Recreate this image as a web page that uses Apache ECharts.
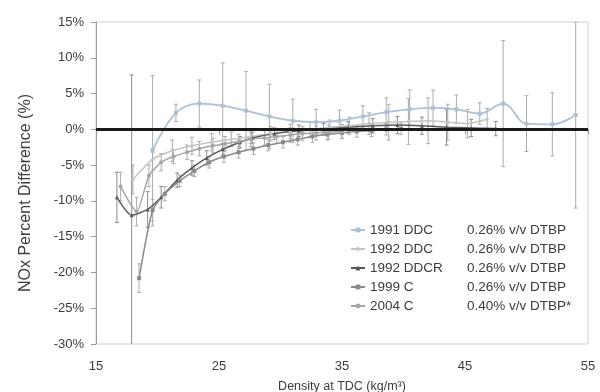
<!DOCTYPE html>
<html><head><meta charset="utf-8">
<script src="https://cdn.jsdelivr.net/npm/echarts@6/dist/echarts.min.js"></script>
<style>html,body{margin:0;padding:0;background:#fff}#c{width:600px;height:392px}</style>
</head><body><div id="c"></div>
<script>
// ---- data ----
const xTicks = [15, 25, 35, 45, 55];
const seriesNames = [
  ['1991 DDC', '0.26% v/v DTBP'],
  ['1992 DDC', '0.26% v/v DTBP'],
  ['1992 DDCR', '0.26% v/v DTBP'],
  ['1999 C', '0.26% v/v DTBP'],
  ['2004 C', '0.40% v/v DTBP*']
];
// 1991 DDC
const x91 = [19.6, 21.5, 23.4, 25.3, 27.2, 29.1, 31.0, 32.9, 34.8, 36.7, 38.6, 40.5, 42.4, 44.3, 46.2, 48.1, 50.0, 52.1, 54.0];
const y91 = [-3.0, 2.3, 3.6, 3.3, 2.6, 1.8, 1.2, 1.0, 1.2, 1.8, 2.4, 2.8, 3.0, 2.8, 2.2, 3.6, 0.8, 0.7, 2.0];
const e91 = [10.5, 1.2, 3.3, 6.0, 5.5, 4.5, 3.0, 1.8, 1.5, 1.5, 2.0, 2.7, 2.5, 2.0, 1.5, 8.8, 3.9, 4.4, 13.0];
// 1992 DDC
const x92 = [18.0, 19.6, 21.2, 22.8, 24.4, 26.0, 27.6, 29.2, 30.8, 32.4, 34.0, 35.6, 37.2, 38.8, 40.4, 42.0, 43.6, 45.2, 46.8];
const y92 = [-7.0, -4.2, -3.0, -2.3, -1.8, -1.4, -1.0, -0.6, -0.3, 0.0, 0.3, 0.5, 0.8, 1.0, 1.1, 1.2, 1.0, 0.8, 1.4];
const e92 = [2.0, 1.5, 1.5, 1.2, 1.2, 1.0, 1.0, 1.0, 1.0, 1.0, 1.0, 1.2, 1.5, 2.5, 3.2, 3.2, 2.5, 2.0, 1.5];
// 1992 DDCR
const x92r = [16.7, 17.9, 19.2, 20.3, 21.6, 22.8, 24.0, 25.3, 26.7, 27.7, 29.5, 31.5, 33.5, 35.5, 37.5, 39.5, 41.5, 43.5, 45.5, 47.5];
const y92r = [-9.5, -12.0, -11.2, -9.5, -7.1, -5.4, -4.0, -2.8, -1.8, -1.2, -0.6, -0.2, 0.0, 0.3, 0.5, 0.6, 0.5, 0.3, 0.2, 0.1];
const e92r = [3.5, 19.6, 2.5, 1.5, 1.0, 1.0, 1.0, 0.8, 0.8, 0.8, 0.8, 0.8, 0.8, 0.8, 1.0, 1.2, 1.2, 2.5, 1.2, 1.0];
// 1999 C
const x99 = [18.5, 19.6, 20.6, 21.8, 23.0, 24.2, 25.4, 26.6, 27.8, 29.0, 30.2, 31.4, 32.6, 33.8, 35.0, 36.2, 37.4, 38.6, 39.8];
const y99 = [-20.8, -11.3, -9.0, -7.2, -5.8, -4.6, -3.8, -3.2, -2.7, -2.2, -1.8, -1.4, -1.0, -0.7, -0.5, -0.3, -0.2, 0.0, 0.1];
const e99 = [2.0, 1.5, 1.0, 0.8, 0.8, 0.8, 0.8, 0.8, 0.8, 0.8, 0.8, 0.8, 0.8, 0.8, 0.8, 0.8, 0.8, 0.8, 0.8];
// 2004 C
const x04 = [17.0, 18.3, 19.3, 20.3, 21.3, 22.4, 23.4, 24.5, 25.5, 26.6, 27.6, 28.7, 29.7, 30.8, 31.8, 32.9, 33.9, 35.0];
const y04 = [-8.0, -11.5, -6.5, -4.6, -3.8, -3.2, -2.7, -2.3, -2.0, -1.7, -1.4, -1.2, -1.0, -0.8, -0.6, -0.5, -0.4, -0.3];
const e04 = [2.0, 2.0, 1.5, 1.2, 1.0, 1.0, 1.0, 1.0, 1.0, 1.0, 1.0, 1.0, 1.0, 1.0, 1.0, 1.0, 1.0, 1.0];

const colors = ['#adc1d6', '#c4c4c4', '#5a5a5a', '#8a8a8a', '#a6a6a6'];
const symbols = ['rect', 'diamond', 'triangle', 'rect', 'circle'];
const sets = [[x91, y91, e91], [x92, y92, e92], [x92r, y92r, e92r], [x99, y99, e99], [x04, y04, e04]];

const chart = echarts.init(document.getElementById('c'), null, {renderer: 'canvas'});
const FONT = 'Liberation Sans, Arial, sans-serif';
const TXT = '#3c3c3c';
const series = [];
sets.forEach((s, i) => {
  const [xs, ys, es] = s;
  series.push({
    type: 'custom', name: 'err' + i, silent: true, z: 1,
    data: xs.map((x, k) => [x, ys[k] - es[k], ys[k] + es[k]]),
    renderItem: (params, api) => {
      const lo = api.coord([api.value(0), api.value(1)]);
      const hi = api.coord([api.value(0), api.value(2)]);
      const st = {stroke: i === 2 ? '#8c8c8c' : '#acacac', lineWidth: 1};
      return {type: 'group', children: [
        {type: 'line', shape: {x1: lo[0], y1: lo[1], x2: hi[0], y2: hi[1]}, style: st},
        {type: 'line', shape: {x1: lo[0] - 2, y1: lo[1], x2: lo[0] + 2, y2: lo[1]}, style: st},
        {type: 'line', shape: {x1: hi[0] - 2, y1: hi[1], x2: hi[0] + 2, y2: hi[1]}, style: st}
      ]};
    },
    clip: true
  });
});
sets.forEach((s, i) => {
  const [xs, ys] = s;
  series.push({
    type: 'line', name: seriesNames[i][0] + '|' + seriesNames[i][1],
    data: xs.map((x, k) => [x, ys[k]]),
    smooth: i === 0 ? 0.4 : 0.2,
    symbol: symbols[i], symbolSize: 4, z: 3,
    lineStyle: {color: colors[i], width: i === 0 ? 1.8 : 1.5},
    itemStyle: {color: colors[i]}
  });
});
series.push({
  type: 'line', name: 'zero', data: [], z: 5,
  markLine: {silent: true, symbol: 'none', label: {show: false},
    lineStyle: {color: '#1a1a1a', width: 3, type: 'solid'}, data: [{yAxis: 0}]}
});

chart.setOption({
  animation: false,
  backgroundColor: '#fff',
  grid: {left: 96, right: 12, top: 22, bottom: 48, containLabel: false, outerBoundsMode: 'none',
    show: true, borderColor: '#d0d0d0', borderWidth: 1},
  xAxis: {
    type: 'value', min: 15, max: 55, interval: 10,
    name: 'Density at TDC (kg/m³)', nameLocation: 'middle', nameGap: 36,
    nameTextStyle: {fontFamily: FONT, fontSize: 12.5, color: TXT},
    axisLine: {show: true, lineStyle: {color: '#9a9a9a'}},
    axisTick: {show: true, length: 5, lineStyle: {color: '#9a9a9a'}},
    axisLabel: {fontFamily: FONT, fontSize: 13, color: TXT, margin: 16,
      formatter: v => xTicks.includes(v) ? String(v) : ''},
    splitLine: {show: false}
  },
  yAxis: {
    type: 'value', min: -30, max: 15, interval: 5,
    name: 'NOx Percent Difference (%)', nameLocation: 'middle', nameGap: 62, nameRotate: 90,
    nameTextStyle: {fontFamily: FONT, fontSize: 16, color: TXT, padding: [0, 20, 0, 0]},
    axisLine: {show: true, lineStyle: {color: '#9a9a9a'}},
    axisTick: {show: true, length: 5, lineStyle: {color: '#9a9a9a'}},
    axisLabel: {fontFamily: FONT, fontSize: 13, color: TXT, margin: 12, formatter: v => v + '%'},
    splitLine: {show: false}
  },
  legend: {
    orient: 'vertical', left: 345, top: 218, itemGap: 5, itemWidth: 14, itemHeight: 6,
    data: seriesNames.map(n => n[0] + '|' + n[1]),
    formatter: name => { const p = name.split('|'); return '{a|' + p[0] + '}{b|' + p[1] + '}'; },
    textStyle: {fontFamily: FONT, fontSize: 13.5, color: TXT,
      rich: {a: {width: 97, fontFamily: FONT, fontSize: 13.5, color: TXT},
             b: {fontFamily: FONT, fontSize: 13.5, color: TXT}}}
  },
  series: series
});
</script></body></html>
